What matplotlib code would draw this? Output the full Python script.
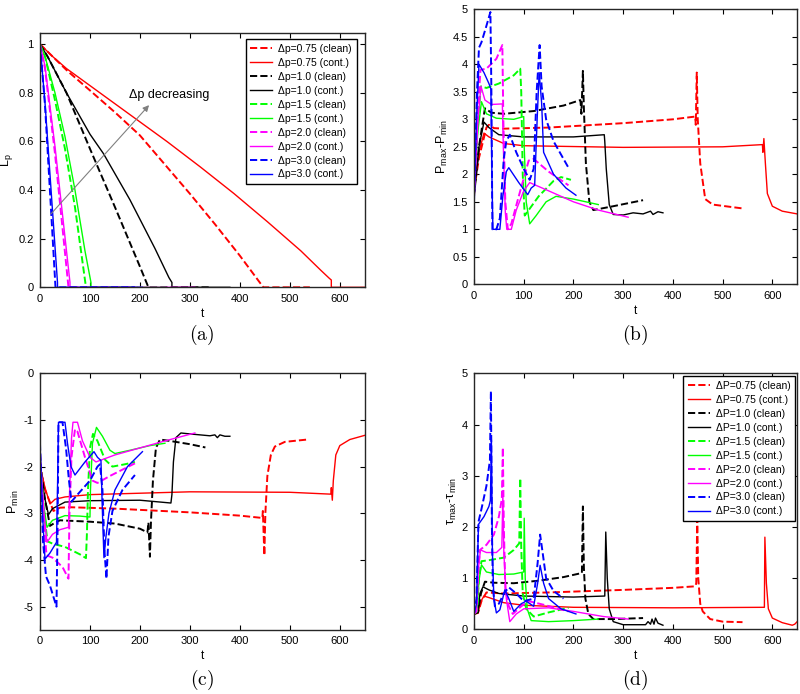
import numpy as np
import matplotlib
matplotlib.use("Agg")
import matplotlib.pyplot as plt
from matplotlib.ticker import FormatStrFormatter

plt.rcParams["font.family"] = ["Liberation Sans", "DejaVu Sans"]
plt.rcParams["axes.unicode_minus"] = False
plt.rcParams["mathtext.fontset"] = "cm"

# legend entries, in plot order
dp_values = ["0.75", "0.75", "1.0", "1.0", "1.5", "1.5", "2.0", "2.0", "3.0", "3.0"]
cases = ["clean", "cont.", "clean", "cont.", "clean", "cont.", "clean", "cont.", "clean", "cont."]

# ---- (a) L_p vs t : (t, value) pairs
a_r_clean = [(0, 1), (25, 0.95), (55, 0.89), (100, 0.81), (150, 0.72), (200, 0.625), (250, 0.505),
             (300, 0.385), (350, 0.26), (400, 0.13), (447, 0), (540, 0)]
a_r_cont = [(0, 1), (25, 0.95), (53, 0.9), (120, 0.8), (187, 0.7), (254, 0.6), (321, 0.495),
            (388, 0.386), (455, 0.27), (522, 0.15), (562, 0.07), (579, 0.037), (583, 0.03), (583, 0), (650, 0)]
a_k_clean = [(0, 1), (15, 0.95), (53, 0.8), (100, 0.57), (150, 0.33), (200, 0.085), (217, 0), (340, 0)]
a_k_cont = [(0, 1), (15, 0.95), (53, 0.8), (100, 0.63), (127, 0.55), (180, 0.36), (230, 0.16),
            (258, 0.04), (264, 0.02), (264, 0), (380, 0)]
a_g_clean = [(0, 1), (10, 0.95), (30, 0.77), (50, 0.57), (70, 0.33), (92, 0), (195, 0)]
a_g_cont = [(0, 1), (10, 0.95), (30, 0.8), (50, 0.62), (70, 0.4), (90, 0.15), (102, 0.02), (102, 0), (250, 0)]
a_m_clean = [(0, 1), (10, 0.9), (30, 0.55), (57, 0), (190, 0)]
a_m_cont = [(0, 1), (10, 0.91), (30, 0.58), (60, 0.02), (60, 0), (310, 0)]
a_b_clean = [(0, 1), (10, 0.75), (31, 0), (190, 0)]
a_b_cont = [(0, 1), (10, 0.76), (35, 0.02), (35, 0), (205, 0)]

# ---- (b) P_max - P_min
b_r_clean = [(0, 1.7), (10, 2.3), (25, 2.85), (30, 2.9), (40, 2.84), (60, 2.83), (150, 2.85), (300, 2.93),
             (400, 3.0), (445, 3.05), (446, 2.9), (448, 3.85), (450, 3.0), (455, 2.2), (465, 1.55),
             (480, 1.45), (540, 1.38)]
b_r_cont = [(0, 1.8), (10, 2.4), (20, 2.75), (30, 2.68), (60, 2.56), (100, 2.52), (300, 2.49), (500, 2.5),
            (580, 2.54), (581, 2.4), (583, 2.65), (586, 2.2), (590, 1.65), (600, 1.42), (620, 1.33),
            (650, 1.28)]
b_k_clean = [(0, 1.6), (10, 2.5), (22, 3.2), (35, 3.12), (60, 3.1), (120, 3.15), (180, 3.25), (214, 3.35),
             (216, 3.1), (219, 3.88), (221, 3.2), (225, 2.2), (232, 1.5), (240, 1.35), (280, 1.42),
             (340, 1.53)]
b_k_cont = [(0, 1.6), (10, 2.5), (20, 2.95), (30, 2.85), (50, 2.72), (100, 2.68), (200, 2.68), (262, 2.72),
            (263, 2.6), (266, 2.1), (272, 1.45), (280, 1.27), (300, 1.26), (320, 1.3), (340, 1.28),
            (355, 1.33), (360, 1.27), (370, 1.32), (380, 1.3)]
b_g_clean = [(0, 1.8), (8, 3.0), (14, 3.6), (25, 3.57), (50, 3.65), (80, 3.8), (93, 3.92), (95, 3.5),
             (98, 2.0), (102, 1.25), (110, 1.35), (130, 1.6), (160, 1.88), (175, 1.95), (195, 1.9)]
b_g_cont = [(0, 1.8), (8, 2.8), (15, 3.32), (25, 3.1), (45, 3.02), (80, 3.0), (100, 3.05), (101, 2.5),
            (105, 1.5), (112, 1.1), (125, 1.25), (145, 1.5), (165, 1.6), (200, 1.55), (250, 1.45)]
b_m_clean = [(0, 1.6), (8, 3.2), (13, 3.9), (25, 3.92), (45, 4.1), (57, 4.35), (59, 3.0), (63, 1.5),
             (68, 1.0), (75, 1.1), (90, 1.6), (110, 2.25), (120, 2.28), (150, 2.05), (190, 1.8)]
b_m_cont = [(0, 1.6), (8, 3.0), (14, 3.6), (22, 3.35), (35, 3.27), (57, 3.28), (59, 2.5), (63, 1.3),
            (66, 1.0), (75, 1.0), (85, 1.35), (100, 1.7), (112, 1.85), (150, 1.7), (200, 1.5),
            (250, 1.35), (310, 1.22)]
b_b_clean = [(0, 1.5), (6, 3.5), (10, 4.3), (15, 4.4), (25, 4.7), (33, 4.95), (35, 3.5), (37, 1.0),
             (45, 1.0), (52, 1.2), (60, 2.3), (65, 2.6), (72, 2.72), (85, 2.4), (100, 2.1), (112, 1.9),
             (120, 2.1), (126, 3.5), (132, 4.35), (136, 3.6), (145, 3.0), (160, 2.6), (190, 2.12)]
b_b_cont = [(0, 1.5), (5, 3.0), (10, 4.0), (20, 3.85), (30, 3.65), (34, 3.55), (36, 2.0), (38, 1.0),
            (52, 1.0), (58, 1.6), (65, 2.05), (70, 2.12), (90, 1.85), (108, 1.63), (115, 1.75), (122, 1.8),
            (127, 3.0), (131, 3.85), (136, 3.3), (140, 2.4), (160, 2.0), (185, 1.75), (205, 1.62)]

# ---- (c) P_min
c_r_clean = [(0, -2.0), (10, -2.5), (27, -2.95), (40, -2.88), (60, -2.87), (150, -2.9), (300, -2.98),
             (400, -3.05), (445, -3.1), (446, -2.95), (449, -3.9), (451, -3.0), (455, -2.2), (462, -1.75),
             (470, -1.57), (490, -1.47), (535, -1.42)]
c_r_cont = [(0, -2.0), (10, -2.45), (20, -2.8), (30, -2.7), (50, -2.65), (100, -2.6), (300, -2.54),
            (500, -2.55), (582, -2.59), (583, -2.45), (585, -2.72), (587, -2.3), (592, -1.75), (600, -1.55),
            (620, -1.42), (650, -1.33)]
c_k_clean = [(0, -1.9), (10, -2.7), (20, -3.27), (30, -3.2), (40, -3.15), (100, -3.18), (150, -3.22),
             (200, -3.33), (215, -3.41), (217, -3.2), (220, -3.93), (222, -3.2), (226, -2.3), (232, -1.6),
             (240, -1.42), (260, -1.45), (300, -1.52), (331, -1.59)]
c_k_cont = [(0, -1.9), (8, -2.6), (17, -3.03), (25, -2.9), (50, -2.76), (100, -2.73), (200, -2.72),
            (262, -2.78), (264, -2.6), (267, -1.9), (272, -1.38), (282, -1.28), (300, -1.3), (340, -1.34),
            (350, -1.32), (355, -1.38), (360, -1.32), (370, -1.35), (380, -1.35)]
c_g_clean = [(0, -1.8), (8, -3.0), (15, -3.6), (25, -3.65), (50, -3.72), (80, -3.88), (92, -3.96),
             (94, -3.4), (96, -2.5), (100, -1.6), (106, -1.3), (115, -1.45), (130, -1.85), (145, -2.0),
             (170, -1.95), (190, -1.9)]
c_g_cont = [(0, -1.8), (7, -2.8), (14, -3.3), (25, -3.15), (50, -3.05), (80, -3.06), (100, -3.08),
            (101, -2.5), (105, -1.5), (113, -1.16), (125, -1.35), (140, -1.65), (150, -1.72), (180, -1.65),
            (220, -1.55), (250, -1.5)]
c_m_clean = [(0, -1.7), (8, -3.2), (13, -3.9), (25, -3.95), (45, -4.15), (57, -4.4), (59, -3.0),
             (63, -1.8), (70, -1.2), (75, -1.25), (90, -1.8), (105, -2.3), (115, -2.35), (140, -2.2),
             (190, -1.93)]
c_m_cont = [(0, -1.7), (8, -3.0), (14, -3.62), (25, -3.45), (40, -3.35), (57, -3.3), (59, -2.6),
            (63, -1.4), (66, -1.05), (75, -1.05), (85, -1.45), (100, -1.8), (112, -1.9), (150, -1.75),
            (200, -1.6), (250, -1.45), (310, -1.28)]
c_b_clean = [(0, -1.5), (6, -3.6), (12, -4.35), (20, -4.55), (33, -5.0), (35, -3.5), (37, -1.05),
             (45, -1.05), (52, -1.6), (58, -2.3), (63, -2.75), (75, -2.6), (100, -2.3), (115, -2.0),
             (120, -1.95), (125, -2.5), (129, -3.8), (133, -4.4), (137, -3.5), (145, -2.95), (165, -2.5),
             (190, -2.18)]
c_b_cont = [(0, -1.5), (5, -3.0), (10, -3.98), (20, -3.85), (33, -3.62), (35, -2.5), (37, -1.05),
            (50, -1.05), (55, -1.5), (62, -2.0), (70, -2.18), (90, -1.9), (108, -1.68), (115, -1.8),
            (122, -1.87), (125, -3.0), (128, -3.95), (132, -3.5), (138, -3.0), (150, -2.5), (175, -2.0),
            (205, -1.68)]

# ---- (d) tau_max - tau_min
d_r_clean = [(0, 0.3), (8, 0.32), (15, 0.55), (25, 0.72), (60, 0.7), (150, 0.72), (300, 0.77), (400, 0.81),
             (445, 0.84), (447, 0.9), (449, 2.15), (451, 1.0), (455, 0.5), (460, 0.35), (475, 0.2),
             (500, 0.15), (540, 0.14)]
d_r_cont = [(0, 0.3), (8, 0.32), (14, 0.55), (20, 0.65), (30, 0.62), (60, 0.52), (100, 0.47), (200, 0.43),
            (400, 0.42), (584, 0.43), (585, 1.8), (588, 0.9), (592, 0.4), (600, 0.22), (620, 0.13),
            (640, 0.08), (645, 0.1), (650, 0.15)]
d_k_clean = [(0, 0.3), (8, 0.33), (14, 0.7), (22, 0.93), (40, 0.91), (80, 0.9), (130, 0.95), (180, 1.02),
             (217, 1.1), (219, 2.4), (221, 1.2), (224, 0.6), (230, 0.3), (240, 0.2), (280, 0.2), (340, 0.22)]
d_k_cont = [(0, 0.3), (8, 0.33), (12, 0.7), (18, 0.83), (30, 0.77), (50, 0.7), (100, 0.65), (200, 0.63),
            (263, 0.65), (265, 1.9), (268, 1.0), (272, 0.4), (280, 0.15), (300, 0.09), (345, 0.09),
            (350, 0.15), (355, 0.1), (358, 0.2), (362, 0.1), (365, 0.22), (370, 0.12), (380, 0.08)]
d_g_clean = [(0, 0.3), (6, 0.35), (10, 1.0), (15, 1.33), (30, 1.35), (60, 1.4), (80, 1.55), (91, 1.68),
             (93, 2.95), (95, 1.6), (98, 0.7), (105, 0.4), (120, 0.25), (150, 0.33), (190, 0.42)]
d_g_cont = [(0, 0.3), (6, 0.35), (10, 0.95), (15, 1.26), (25, 1.12), (50, 1.07), (80, 1.08), (100, 1.12),
            (101, 2.17), (103, 1.0), (107, 0.4), (115, 0.17), (150, 0.15), (200, 0.17), (250, 0.2)]
d_m_clean = [(0, 0.3), (5, 0.35), (9, 1.2), (12, 1.55), (25, 1.65), (40, 1.85), (50, 2.2), (56, 2.55),
             (58, 3.55), (60, 2.0), (63, 0.8), (70, 0.45), (78, 0.3), (95, 0.45), (110, 0.55), (140, 0.48),
             (190, 0.35)]
d_m_cont = [(0, 0.3), (5, 0.35), (9, 1.2), (13, 1.55), (25, 1.5), (45, 1.5), (56, 1.6), (58, 2.65),
            (60, 1.5), (65, 0.6), (72, 0.15), (85, 0.3), (100, 0.4), (150, 0.42), (200, 0.35), (260, 0.25),
            (310, 0.2)]
d_b_clean = [(0, 0.3), (5, 0.6), (9, 2.1), (15, 2.35), (25, 2.8), (32, 3.3), (34, 4.65), (36, 2.0),
             (38, 0.8), (42, 0.45), (50, 0.5), (60, 0.7), (70, 0.82), (85, 0.7), (100, 0.55), (120, 0.6),
             (128, 1.3), (133, 1.85), (138, 1.5), (145, 1.0), (160, 0.75), (180, 0.6)]
d_b_cont = [(0, 0.3), (5, 0.5), (9, 2.05), (20, 2.2), (30, 2.4), (33, 2.52), (35, 3.7), (37, 1.5),
            (40, 0.6), (45, 0.32), (52, 0.38), (62, 0.77), (70, 0.6), (80, 0.35), (95, 0.5), (105, 0.55),
            (120, 0.45), (128, 0.9), (133, 1.25), (140, 0.9), (150, 0.6), (175, 0.4), (205, 0.3)]

panel_a = [a_r_clean, a_r_cont, a_k_clean, a_k_cont, a_g_clean, a_g_cont, a_m_clean, a_m_cont, a_b_clean, a_b_cont]
panel_b = [b_r_clean, b_r_cont, b_k_clean, b_k_cont, b_g_clean, b_g_cont, b_m_clean, b_m_cont, b_b_clean, b_b_cont]
panel_c = [c_r_clean, c_r_cont, c_k_clean, c_k_cont, c_g_clean, c_g_cont, c_m_clean, c_m_cont, c_b_clean, c_b_cont]
panel_d = [d_r_clean, d_r_cont, d_k_clean, d_k_cont, d_g_clean, d_g_cont, d_m_clean, d_m_cont, d_b_clean, d_b_cont]

colors = ["#ff0000", "#ff0000", "black", "black", "#00ff00", "#00ff00", "#ff00ff", "#ff00ff", "#0000ff", "#0000ff"]


def draw(ax, series, labels=None):
    for i, s in enumerate(series):
        d = np.array(s, dtype=float)
        dashed = cases[i] == "clean"
        ax.plot(d[:, 0], d[:, 1], color=colors[i], ls="--" if dashed else "-",
                lw=1.4 if dashed else 1.0, label=None if labels is None else labels[i])
    ax.set_xlim(0, 650)
    ax.set_xticks(range(0, 700, 100))
    ax.tick_params(direction="in", top=True, right=True, labelsize=8, length=3.5, width=0.8, pad=4.5)
    for sp in ax.spines.values():
        sp.set_linewidth(1.0)
        sp.set_color("0.15")
    ax.set_xlabel("t", fontsize=8.5, labelpad=3)
    ax.yaxis.set_major_formatter(FormatStrFormatter("%g"))


def legend(ax, labels, anchor):
    ax.legend(loc="upper right", bbox_to_anchor=anchor, borderaxespad=0, fontsize=7.5,
              frameon=True, fancybox=False, edgecolor="black", framealpha=1,
              labelspacing=0.38, handlelength=2.1, handletextpad=0.6, borderpad=0.45)
    ax.get_legend().get_frame().set_linewidth(1.0)


fig = plt.figure(figsize=(8, 6.94), dpi=100)

ax_a = fig.add_axes([0.05, 0.586, 0.406, 0.366])
lab_a = ["Δp=%s (%s)" % (v, c) for v, c in zip(dp_values, cases)]
draw(ax_a, panel_a, lab_a)
ax_a.set_ylim(0, 1.045)
ax_a.set_yticks(np.arange(0, 1.01, 0.2))
ax_a.set_ylabel("L$_\\mathregular{p}$", fontsize=9, labelpad=2)
legend(ax_a, lab_a, (0.975, 0.977))
ax_a.annotate("", xy=(222, 0.758), xytext=(18, 0.293),
              arrowprops=dict(arrowstyle="-|>", color="0.5", lw=0.8, mutation_scale=9))
ax_a.text(179, 0.79, "Δp decreasing", fontsize=9, va="center", ha="left")

ax_b = fig.add_axes([0.5925, 0.5903, 0.404, 0.3963])
draw(ax_b, panel_b)
ax_b.set_ylim(0, 5)
ax_b.set_yticks(np.arange(0, 5.01, 0.5))
ax_b.set_ylabel("P$_\\mathregular{max}$-P$_\\mathregular{min}$", fontsize=9, labelpad=2)

ax_c = fig.add_axes([0.05, 0.0922, 0.406, 0.370])
draw(ax_c, panel_c)
ax_c.set_ylim(-5.5, 0)
ax_c.set_yticks(range(-5, 1))
ax_c.set_ylabel("P$_\\mathregular{min}$", fontsize=9, labelpad=2)

ax_d = fig.add_axes([0.5925, 0.0932, 0.404, 0.3689])
lab_d = ["ΔP=%s (%s)" % (v, c) for v, c in zip(dp_values, cases)]
draw(ax_d, panel_d, lab_d)
ax_d.set_ylim(0, 5)
ax_d.set_yticks(range(0, 6))
ax_d.set_ylabel("τ$_\\mathregular{max}$-τ$_\\mathregular{min}$", fontsize=9, labelpad=2)
legend(ax_d, lab_d, (0.994, 0.989))

for lab, x, y in [("a", 202, 335), ("b", 635, 335), ("c", 202, 680), ("d", 635, 680)]:
    fig.text(x / 800, 1 - y / 694, r"$(\mathrm{%s})$" % lab, fontsize=14, ha="center", va="center")

fig.savefig("out.png", dpi=100)
